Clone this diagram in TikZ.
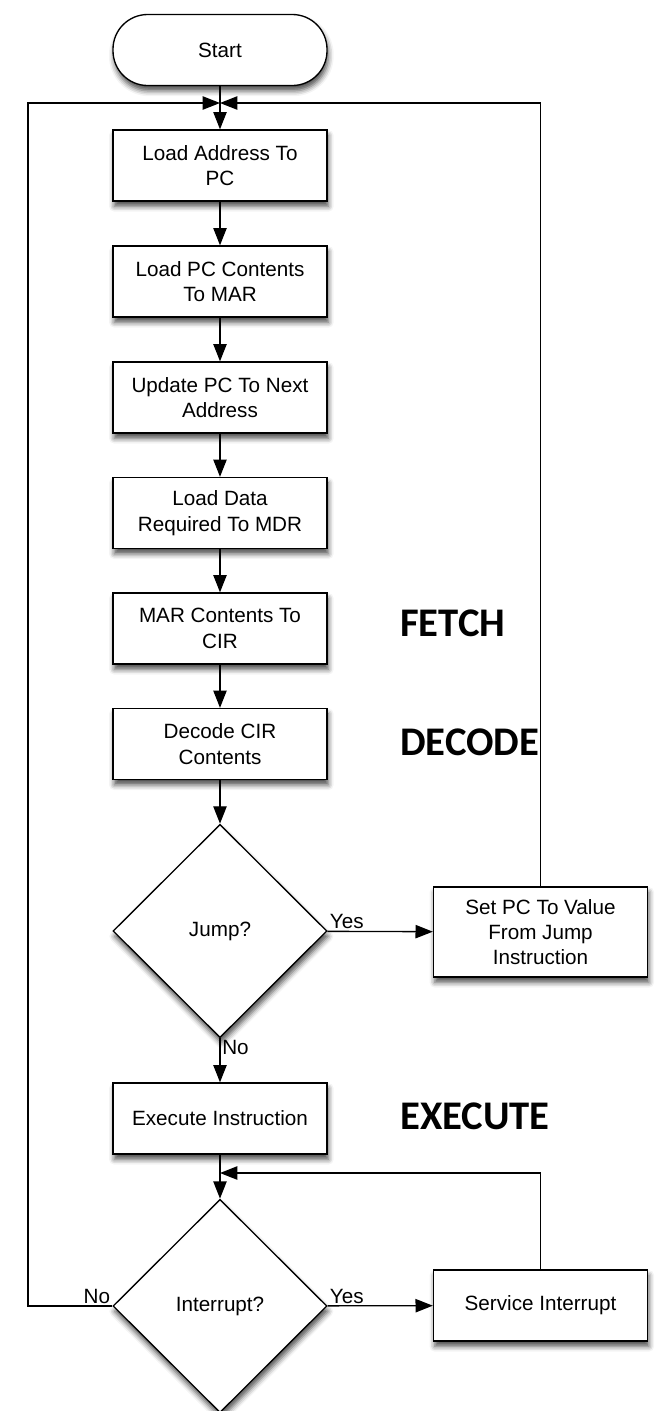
\documentclass[tikz,border=0pt]{standalone}
\usepackage{fontspec}
\setmainfont{Liberation Sans}
\newfontfamily\phasefont{Carlito}
\usetikzlibrary{arrows.meta}
\usetikzlibrary{shapes.geometric}
\usetikzlibrary{shadows.blur}

\begin{document}
\begin{tikzpicture}[x=0.75pt,y=0.75pt,yscale=-1,xscale=1,
  boxshadow/.style={blur shadow={shadow xshift=1pt,shadow yshift=-4pt,shadow blur radius=4pt,shadow opacity=70}},
  flowbox/.style={draw,line width=1pt,fill=white,minimum width=160.5pt,minimum height=53.25pt,inner sep=2pt,align=center,font=\fontsize{15.5}{19}\selectfont,boxshadow},
  startbox/.style={flowbox,rounded corners=26pt},
  decision/.style={diamond,draw,line width=1pt,fill=white,minimum width=160.5pt,minimum height=160pt,inner sep=0pt,font=\fontsize{15.5}{19}\selectfont,boxshadow},
  arr/.style={-{Triangle[length=13pt,width=10pt]},line width=1pt},
  lbl/.style={font=\fontsize{15.5}{19}\selectfont,inner sep=1.5pt},
  phase/.style={anchor=west,inner sep=0pt,font=\phasefont\fontsize{30.5}{36}\selectfont\bfseries}]
\useasboundingbox (0,0) rectangle (659,1411);

%Flowchart: Terminator
\node[startbox] (start) at (220,50) {Start};

%Flowchart: Process
\node[flowbox] (adr) at (220,165.5) {Load Address To\\PC};
\node[flowbox] (pcmar) at (220,281.5) {Load PC Contents\\To MAR};
\node[flowbox] (pcnext) at (220,397.5) {Update PC To Next\\Address};
\node[flowbox] (mdr) at (220,513) {Load Data\\Required To MDR};
\node[flowbox] (cir) at (220,628.5) {MAR Contents To\\CIR};
\node[flowbox] (decode) at (220,744) {Decode CIR\\Contents};
\node[flowbox] (exec) at (220,1118.5) {Execute Instruction};
\node[flowbox,minimum height=67.5pt] (setpc) at (540.5,932) {Set PC To Value\\From Jump\\Instruction};
\node[flowbox] (svc) at (540.5,1305.5) {Service Interrupt};

%Flowchart: Decision
\node[decision] (jump) at (220,931) {Jump?};
\node[decision] (irq) at (220,1306) {Interrupt?};

%Joins
\coordinate (m1) at (220,103);
\coordinate (m2) at (220,1173);
\coordinate (lft) at (28,103);

%Straight Lines
\draw[arr] (start) -- (adr);
\draw[arr] (adr) -- (pcmar);
\draw[arr] (pcmar) -- (pcnext);
\draw[arr] (pcnext) -- (mdr);
\draw[arr] (mdr) -- (cir);
\draw[arr] (cir) -- (decode);
\draw[arr] (decode) -- (jump);
\draw[arr] (jump) -- (setpc);
\draw[arr] (setpc.north) |- (m1);
\draw[arr] (jump) -- (exec);
\draw[arr] (exec) -- (irq);
\draw[arr] (irq) -- (svc);
\draw[arr] (svc.north) |- (m2);
\draw[arr] (irq.west) -- (irq.west -| lft) -- (lft) -- (m1);

% Text Node
\node[lbl,anchor=south west] (jumpyes) at (jump.east) {Yes};
\node[lbl,anchor=north west] (jumpno) at (jump.south) {No};
\node[lbl,anchor=south west] (irqyes) at (irq.east) {Yes};
\node[lbl,anchor=south east] (irqno) at (irq.west) {No};

% Text Node
\node[phase] (fetch) at (400,623) {FETCH};
\node[phase] (dec) at (400,742) {DECODE};
\node[phase] (execute) at (400,1116.5) {EXECUTE};

\end{tikzpicture}
\end{document}
